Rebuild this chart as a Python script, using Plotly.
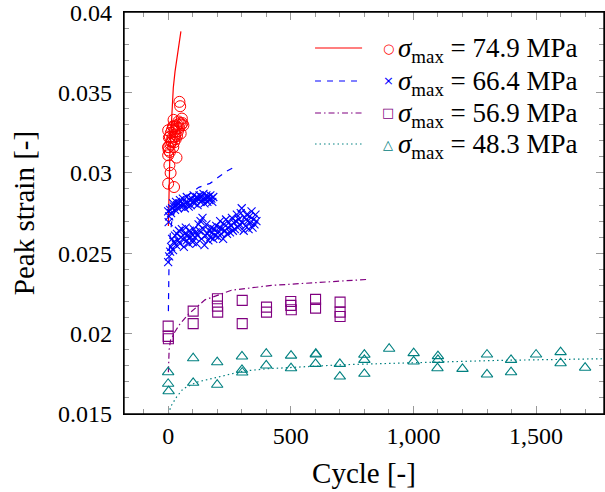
import plotly.graph_objects as go

# ---------------- data ----------------
# sigma_max = 74.9 MPa
red_n = [0, 0, 0, 0, 1, 2, 3, 5, 7, 7, 9, 10, 11, 13, 14, 16, 18, 20, 21, 21, 22, 24, 24, 26, 27,
         29, 31, 33, 34, 34, 36, 38, 40, 42, 44, 46, 48, 49, 51, 54, 56, 58, 62]
red_e = [0.02933, 0.0311, 0.03161, 0.03265, 0.0316, 0.0314, 0.0322, 0.03047, 0.0313, 0.03224,
         0.0318, 0.0300, 0.0325, 0.0320, 0.03192, 0.0327, 0.0322, 0.0329, 0.03286, 0.03161,
         0.0333, 0.02912, 0.0319, 0.0326, 0.03224, 0.0324, 0.0321, 0.0329, 0.03095, 0.03276,
         0.0323, 0.0330, 0.0326, 0.0332, 0.0328, 0.03442, 0.0331, 0.03415, 0.03245, 0.0330,
         0.03338, 0.0331, 0.03296]
red_fit_n = [1, 2, 3, 5, 7, 10, 14, 21, 28, 34, 43, 52]
red_fit_e = [0.0267, 0.0282, 0.0291, 0.0303, 0.0312, 0.0321, 0.0333, 0.0353, 0.0363, 0.0370, 0.0380, 0.0388]

# sigma_max = 66.4 MPa (two tests)
blue_a_n = [0, 4, 8, 12, 16, 20, 24, 28, 32, 36, 40, 44, 48, 52, 56, 60, 64, 68, 72, 76, 80, 84,
            88, 92, 96, 100, 104, 108, 112, 116, 120, 124, 128, 132, 136, 140, 144, 148, 152,
            156, 160, 164, 168, 172, 176, 180, 184, 2]
blue_a_e = [0.02760, 0.02730, 0.02770, 0.02750, 0.02780, 0.02810, 0.02790, 0.02770, 0.02820,
            0.02800, 0.02780, 0.02810, 0.02830, 0.02790, 0.02810, 0.02840, 0.02800, 0.02780,
            0.02820, 0.02850, 0.02810, 0.02790, 0.02830, 0.02800, 0.02840, 0.02820, 0.02860,
            0.02810, 0.02830, 0.02850, 0.02800, 0.02840, 0.02860, 0.02820, 0.02850, 0.02830,
            0.02870, 0.02810, 0.02840, 0.02860, 0.02820, 0.02850, 0.02830, 0.02860, 0.02840,
            0.02820, 0.02850, 0.02694]
blue_b_n = [0, 4, 8, 12, 16, 20, 24, 28, 32, 36, 40, 44, 48, 52, 56, 60, 64, 68, 72, 76, 80, 84,
            88, 92, 96, 100, 104, 108, 112, 116, 120, 124, 128, 132, 136, 140, 144, 148, 152,
            156, 160, 164, 168, 172, 176, 180, 184, 188, 192, 196, 200, 204, 208, 212, 216, 220,
            224, 228, 232, 236, 240, 244, 248, 252, 256, 260, 264, 268, 272, 276, 280, 284, 288,
            292, 296, 300, 304, 308, 312, 316, 320, 324, 328, 332, 336, 340, 344, 348, 352, 356,
            360]
blue_b_e = [0.02445, 0.02480, 0.02510, 0.02540, 0.02590, 0.02520, 0.02570, 0.02610, 0.02550,
            0.02620, 0.02580, 0.02640, 0.02560, 0.02600, 0.02650, 0.02590, 0.02540, 0.02620,
            0.02660, 0.02580, 0.02610, 0.02560, 0.02640, 0.02600, 0.02620, 0.02570, 0.02650,
            0.02600, 0.02630, 0.02560, 0.02610, 0.02680, 0.02640, 0.02700, 0.02590, 0.02720,
            0.02650, 0.02550, 0.02610, 0.02680, 0.02620, 0.02580, 0.02640, 0.02600, 0.02660,
            0.02630, 0.02590, 0.02650, 0.02610, 0.02670, 0.02630, 0.02600, 0.02660, 0.02700,
            0.02620, 0.02650, 0.02590, 0.02680, 0.02640, 0.02710, 0.02620, 0.02660, 0.02690,
            0.02630, 0.02670, 0.02720, 0.02640, 0.02690, 0.02650, 0.02700, 0.02740, 0.02660,
            0.02710, 0.02680, 0.02750, 0.02780, 0.02690, 0.02640, 0.02720, 0.02670, 0.02740,
            0.02700, 0.02650, 0.02730, 0.02690, 0.02760, 0.02660, 0.02710, 0.02680, 0.02740,
            0.02700]
blue_fit_n = [1, 2, 4, 8, 15, 30, 60, 125, 171, 238, 262]
blue_fit_e = [0.0214, 0.0232, 0.0249, 0.0261, 0.0270, 0.0278, 0.0284, 0.0291, 0.02935, 0.0301, 0.0303]

# sigma_max = 56.9 MPa
purple_n = [0, 0, 1, 102, 102, 201, 201, 202, 302, 302, 401, 401, 500, 500, 502, 601, 601,
            701, 701, 701]
purple_e = [0.02047, 0.01983, 0.01968, 0.02140, 0.02062, 0.02217, 0.02171, 0.02134, 0.02207,
            0.02062, 0.02165, 0.02134, 0.02200, 0.02176, 0.02149, 0.02213, 0.02159, 0.02196,
            0.02134, 0.02107]
purple_fit_n = [1, 2, 4, 10, 27, 48, 82, 150, 258, 421, 625, 808]
purple_fit_e = [0.0176, 0.0183, 0.0190, 0.0196, 0.0201, 0.0206, 0.0212, 0.0221, 0.0227, 0.0230,
                0.0232, 0.02337]

# sigma_max = 48.3 MPa
teal_n = [0, 0, 2, 102, 102, 200, 200, 301, 301, 302, 400, 400, 501, 501, 602, 602, 601, 700,
          700, 800, 800, 800, 901, 1001, 1001, 1100, 1100, 1098, 1200, 1300, 1300, 1398, 1398,
          1500, 1600, 1600, 1700]
teal_e = [0.01760, 0.01688, 0.01642, 0.01847, 0.01694, 0.01822, 0.01682, 0.01858, 0.01775,
          0.01758, 0.01875, 0.01802, 0.01863, 0.01785, 0.01875, 0.01870, 0.01812, 0.01812,
          0.01733, 0.01869, 0.01837, 0.01750, 0.01906, 0.01879, 0.01827, 0.01860, 0.01837,
          0.01785, 0.01781, 0.01870, 0.01746, 0.01837, 0.01760, 0.01870, 0.01885, 0.01816,
          0.01788]
teal_fit_n = [1, 12, 34, 61, 116, 197, 306, 401, 502, 700, 930, 1331, 1780]
teal_fit_e = [0.0150, 0.0155, 0.01605, 0.01657, 0.01698, 0.01729, 0.01767, 0.01781, 0.01791,
              0.01806, 0.01816, 0.01833, 0.01844]

labels = ["74.9", "66.4", "56.9", "48.3"]
x_ticks = [0, 500, 1000, 1500]
y_ticks = [0.015, 0.02, 0.025, 0.03, 0.035, 0.04]

RED, BLUE, PURPLE, TEAL = "#ff0000", "#0000ff", "#800080", "#008080"
FONT = "Liberation Serif"

fig = go.Figure()

# fitted curves
fig.add_trace(go.Scatter(x=red_fit_n, y=red_fit_e, mode="lines", showlegend=False,
                         line=dict(color=RED, width=1.2, dash="solid")))
fig.add_trace(go.Scatter(x=blue_fit_n, y=blue_fit_e, mode="lines", showlegend=False,
                         line=dict(color=BLUE, width=1.2, dash="6px,6px")))
fig.add_trace(go.Scatter(x=purple_fit_n, y=purple_fit_e, mode="lines", showlegend=False,
                         line=dict(color=PURPLE, width=1.2, dash="6px,3px,1.5px,3px")))
fig.add_trace(go.Scatter(x=teal_fit_n, y=teal_fit_e, mode="lines", showlegend=False,
                         line=dict(color=TEAL, width=1.2, dash="1.5px,3px")))

# measurements
fig.add_trace(go.Scatter(x=red_n, y=red_e, mode="markers", showlegend=False,
                         marker=dict(symbol="circle-open", size=11, color=RED, line=dict(width=1))))
fig.add_trace(go.Scatter(x=blue_a_n + blue_b_n, y=blue_a_e + blue_b_e, mode="markers",
                         showlegend=False,
                         marker=dict(symbol="x-thin", size=8, color=BLUE,
                                     line=dict(width=1.1, color=BLUE))))
fig.add_trace(go.Scatter(x=purple_n, y=purple_e, mode="markers", showlegend=False,
                         marker=dict(symbol="square-open", size=10, color=PURPLE, line=dict(width=1.1))))
fig.add_trace(go.Scatter(x=teal_n, y=teal_e, mode="markers", showlegend=False,
                         marker=dict(symbol="triangle-up-open", size=10, color=TEAL, line=dict(width=1.1))))

# ---- custom legend (line sample, marker glyph, label) ----
leg_rows = [0.9104, 0.8284, 0.7488, 0.6716]
leg_colors = [RED, BLUE, PURPLE, TEAL]
leg_dash = ["solid", "6px,6px", "6px,3px,1.5px,3px", "1.5px,3px"]
leg_glyph = ["○", "×", "□", "△"]
shapes = []
annotations = []
for yy, col, dsh, gl, lab in zip(leg_rows, leg_colors, leg_dash, leg_glyph, labels):
    shapes.append(dict(type="line", xref="paper", yref="paper", x0=0.398, x1=0.496, y0=yy, y1=yy,
                       line=dict(color=col, width=1.2, dash=dsh)))
    annotations.append(dict(xref="paper", yref="paper", x=0.551, y=yy, text=gl, showarrow=False,
                            xanchor="center", yanchor="middle",
                            font=dict(family="DejaVu Sans", size=13, color=col)))
    annotations.append(dict(xref="paper", yref="paper", x=0.566, y=yy - 0.004,
                            text=f"<i>σ</i><sub>max</sub> = {lab} MPa", showarrow=False,
                            xanchor="left", yanchor="middle",
                            font=dict(family=FONT, size=27, color="black")))
# axis frame
shapes.append(dict(type="rect", xref="paper", yref="paper", x0=0, x1=1, y0=0, y1=1,
                   line=dict(color="black", width=1.4), fillcolor="rgba(0,0,0,0)", layer="above"))

fig.update_layout(
    width=605, height=492,
    margin=dict(l=124, r=1, t=12, b=78),
    paper_bgcolor="white", plot_bgcolor="white",
    font=dict(family=FONT, size=24, color="black"),
    showlegend=False,
    shapes=shapes, annotations=annotations,
    xaxis=dict(range=[-180, 1777], tickvals=x_ticks, tickformat=",d",
               ticks="inside", ticklen=8, tickcolor="#999999", tickwidth=1,
               minor=dict(tickmode="linear", dtick=100, tick0=0, ticks="inside", ticklen=5,
                          tickcolor="#999999"),
               showline=True, linecolor="black", linewidth=1.3, mirror="ticks",
               showgrid=False, zeroline=False, ticklabelstandoff=0, ticklabeloverflow="allow",
               title=dict(text="Cycle [-]", standoff=14)),
    yaxis=dict(range=[0.015, 0.04001], tickvals=y_ticks,
               ticks="inside", ticklen=8, tickcolor="#999999", tickwidth=1,
               minor=dict(tickmode="linear", dtick=0.001, tick0=0.015, ticks="inside", ticklen=5,
                          tickcolor="#999999"),
               showline=True, linecolor="black", linewidth=1.3, mirror="ticks",
               showgrid=False, zeroline=False, ticklabelstandoff=6, ticklabeloverflow="allow",
               title=dict(text="Peak strain [-]", standoff=14)),
)

fig.write_html("out.html", config={"displayModeBar": False},
               post_script="document.body.style.margin='0';document.body.style.overflow='hidden';")
